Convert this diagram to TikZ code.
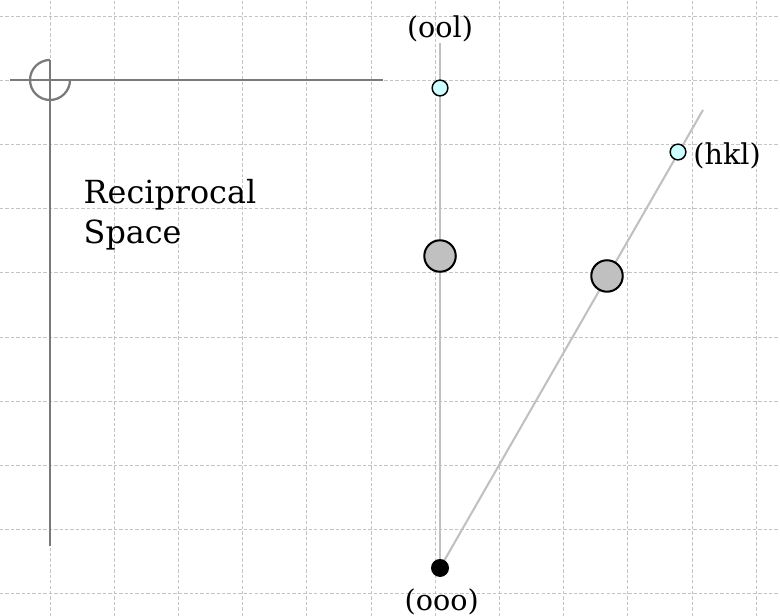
\documentclass[tikz,border=0pt]{standalone}
\usepackage{fontspec}
\setmainfont{DejaVu Serif}
\usetikzlibrary{backgrounds}
\definecolor{gridgray}{HTML}{C4C4C4}
\definecolor{axisgray}{HTML}{7A7A7A}
\definecolor{rodgray}{HTML}{C0C0C0}
\definecolor{spotcyan}{HTML}{CCFFFF}
\tikzset{
  gridline/.style={draw=gridgray, line width=0.45pt, dash pattern=on 1.5pt off 0.9pt},
  axisline/.style={draw=axisgray, line width=1pt},
  rod/.style={draw=rodgray, line width=0.9pt},
  smallspot/.style={circle, draw=black, line width=0.65pt, fill=spotcyan, inner sep=0pt, minimum size=0.245cm},
  bigspot/.style={circle, draw=black, line width=0.9pt, fill=rodgray, inner sep=0pt, minimum size=0.49cm},
  originspot/.style={circle, fill=black, inner sep=0pt, minimum size=0.28cm},
  spotlabel/.style={inner sep=0pt, font=\fontsize{12.7pt}{15pt}\selectfont},
  titletext/.style={inner sep=0pt, anchor=base west, font=\fontsize{14.1pt}{17pt}\selectfont}
}
\begin{document}
\begin{tikzpicture}
\useasboundingbox (0,0) rectangle (12.1495,9.595);

% reciprocal lattice points
\node[originspot] (o000) at (6.854,0.748) {};
\node[smallspot]  (o001) at (6.854,8.224) {};
\node[bigspot]    (omid) at (6.854,5.607) {};
\node[smallspot]  (hkl)  at (10.561,7.227) {};
\node[bigspot]    (hmid) at (9.455,5.296) {};
\coordinate (vtop) at (6.854,8.925);
\coordinate (stop) at (10.950,7.882);

\begin{scope}[on background layer]
  \fill[white] (0,0) rectangle (12.1495,9.595);
  % dashed background grid
  \foreach \k in {0,...,9} \draw[gridline] (0,0.343+\k) -- (12.1495,0.343+\k);
  \foreach \k in {0,...,11} \draw[gridline] (0.779+\k,0) -- (0.779+\k,9.595);
  % reciprocal lattice rods
  \draw[rod] (o000.center) -- (vtop);
  \draw[rod] (o000.center) -- (stop);
\end{scope}

% axes corner with the quarter-open circle
\coordinate (axo) at (0.779,8.349);
\coordinate (axleft) at (0.156,8.349);
\coordinate (axright) at (5.966,8.349);
\coordinate (axbottom) at (0.779,1.090);
\draw[axisline] (axleft) -- (axright);
\draw[axisline] ([yshift=0.3115cm]axo) arc[start angle=90, end angle=360, radius=0.3115] ;
\draw[axisline] ([yshift=0.3115cm]axo) -- (axbottom);

% labels
\node[spotlabel, anchor=base] (l001) at (6.854,9.003) {(ool)};
\node[spotlabel, anchor=base] (l000) at (6.880,0.093) {(ooo)};
\node[spotlabel, anchor=base west] (lhkl) at (10.794,7.025) {(hkl)};
\node[titletext] (rec1) at (1.297,6.428) {Reciprocal};
\node[titletext] (rec2) at (1.297,5.805) {Space};
\end{tikzpicture}
\end{document}
